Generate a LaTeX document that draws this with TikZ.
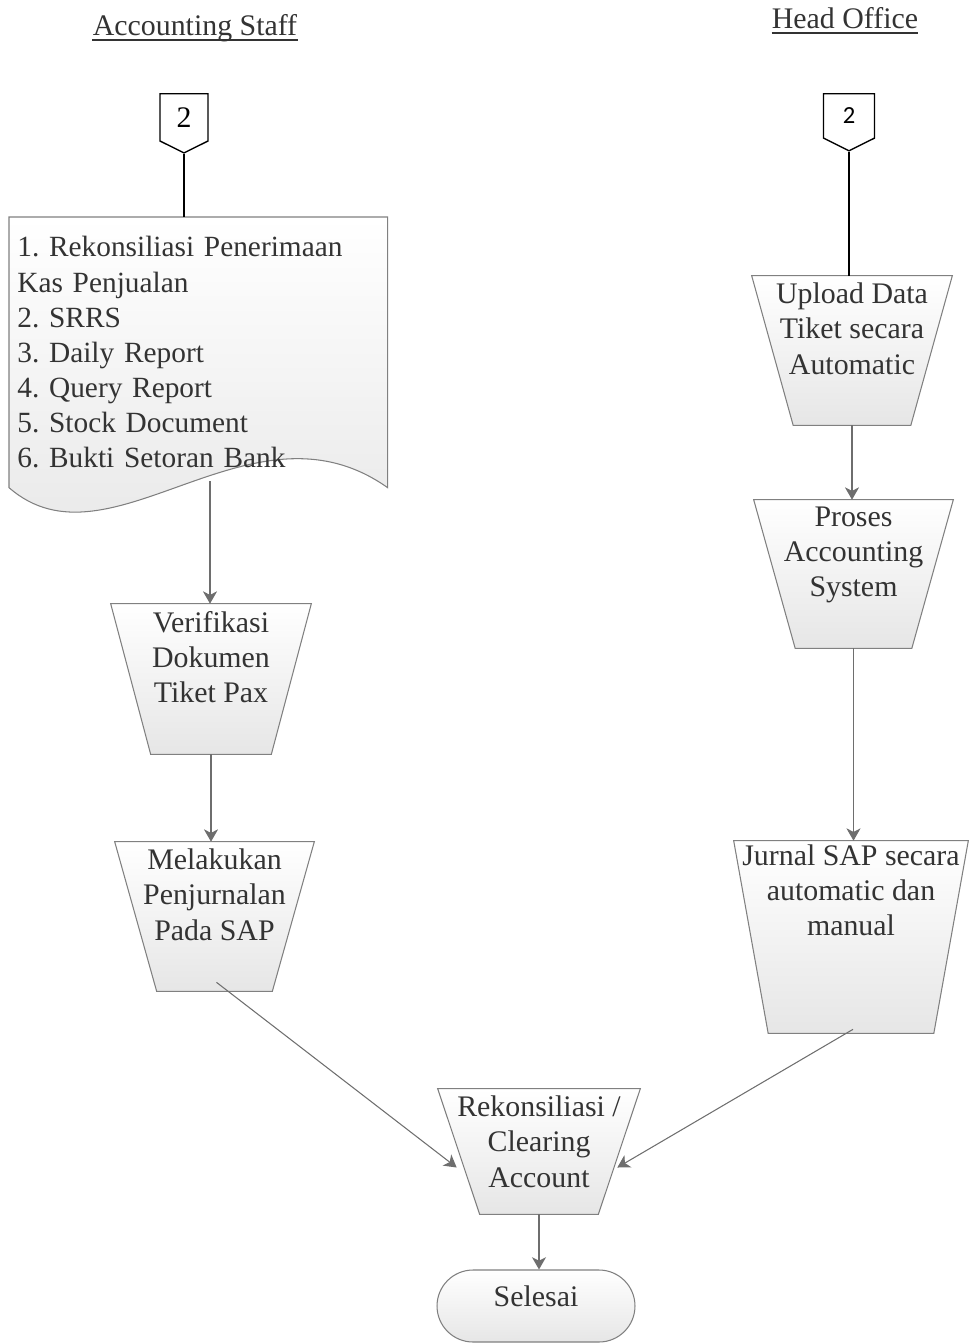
\documentclass[tikz,border=0pt]{standalone}
\usepackage{fontspec}
\setmainfont{Liberation Serif}
\newfontfamily\calibrifont{Carlito}
\usetikzlibrary{shapes.misc,shapes.symbols,arrows.meta,calc,backgrounds}

\definecolor{linegray}{RGB}{128,128,128}
\definecolor{arrowgray}{RGB}{110,110,110}
\definecolor{fillgray}{RGB}{230,230,230}
\definecolor{textgray}{RGB}{51,51,51}

\tikzset{
  stepbox/.style={rectangle, inner sep=0pt},
  manopline/.style={draw=linegray, line width=0.6pt, top color=white, bottom color=fillgray},
  steptext/.style={anchor=north, align=center, inner sep=4pt, text=textgray},
  terminal/.style={rounded rectangle, draw=linegray, line width=0.6pt, top color=white,
    bottom color=fillgray, inner sep=0pt},
  docbox/.style={rectangle, inner xsep=0.16cm, inner ysep=0pt, align=left, text=textgray,
    font=\fontsize{16.7}{20}\selectfont},
  offpage/.style={signal, signal to=south, signal pointer angle=127, draw=black,
    line width=0.8pt, fill=white, inner sep=0pt},
  flow/.style={draw=arrowgray, line width=0.6pt, -{Stealth[length=7pt,width=8pt,inset=2pt]}},
  link/.style={draw=black, line width=1.1pt},
  lane/.style={text=textgray, inner sep=0pt}
}

% manual operation outline behind a stepbox node: #1 node, #2 inset at the bottom
\newcommand{\manopshape}[2]{%
  \begin{scope}[on background layer]
    \draw [manopline] (#1.north west) -- (#1.north east) -- ($(#1.south east)+(-#2,0)$)
      -- ($(#1.south west)+(#2,0)$) -- cycle;
  \end{scope}}

\begin{document}
\frenchspacing
\begin{tikzpicture}[x=0.02cm, y=-0.02cm, font=\fontsize{17}{20}\selectfont]
\useasboundingbox (0,0) rectangle (969,1343);

% lanes
\node [lane, anchor=base] at (195,35) (staff) {Accounting Staff};
\node [lane, anchor=base] at (845,28) (head) {Head Office};
\draw [textgray, line width=1pt] ($(staff.base west)+(0,5)$) -- ($(staff.base east)+(0,5)$);
\draw [textgray, line width=1pt] ($(head.base west)+(0,5)$) -- ($(head.base east)+(0,5)$);

% off-page connectors
\node [offpage, minimum width=0.96cm, minimum height=1.02cm, anchor=north] at (184,93) (offleft) {2};
\node [offpage, minimum width=1.02cm, minimum height=0.95cm, anchor=north, font=\calibrifont\fontsize{14}{16}\selectfont] at (849,93) (offright) {2};

% Accounting Staff
\node [docbox, anchor=north west, text width=7.24cm, minimum width=7.56cm, minimum height=5.4cm] at (9,217) (docs)
  {1. Rekonsiliasi Penerimaan\\Kas Penjualan\\2. SRRS\\3. Daily Report\\4. Query Report\\5. Stock Document\\6. Bukti Setoran Bank};
\begin{scope}[on background layer]
\draw [manopline]
  (docs.north west) -- (docs.north east) -- (docs.south east)
  .. controls ($(docs.south east)+(-137,-97)$) and ($(docs.south west)+(101,88)$) .. (docs.south west) -- cycle;
\end{scope}
\coordinate (docout) at (210,481);

\node [stepbox, minimum width=4cm, minimum height=3cm,
  label={[steptext]north:{Verifikasi\\Dokumen\\Tiket Pax}}] at (211,679) (verif) {};
\manopshape{verif}{40}
\node [stepbox, minimum width=3.98cm, minimum height=2.98cm,
  label={[steptext]north:{Melakukan\\Penjurnalan\\Pada SAP}}] at (214.5,916.5) (melak) {};
\manopshape{melak}{42}

% Head Office
\node [stepbox, minimum width=4cm, minimum height=2.98cm,
  label={[steptext]north:{Upload Data\\Tiket secara\\Automatic}}] at (852,350.5) (upload) {};
\manopshape{upload}{41.5}
\node [stepbox, minimum width=3.98cm, minimum height=2.96cm,
  label={[steptext]north:{Proses\\Accounting\\System}}] at (853.5,574) (proses) {};
\manopshape{proses}{41.5}
\node [stepbox, minimum width=4.68cm, minimum height=3.84cm,
  label={[steptext, inner sep=2pt]north:{Jurnal SAP secara\\automatic dan\\manual}}] at (851,937) (jurnal) {};
\manopshape{jurnal}{34.5}

% end
\node [stepbox, minimum width=4.04cm, minimum height=2.5cm,
  label={[steptext]north:{Rekonsiliasi /\\Clearing\\Account}}] at (539,1151.5) (rekon) {};
\manopshape{rekon}{42}
\node [terminal, minimum width=3.96cm, minimum height=1.44cm,
  label={[steptext, inner sep=9pt]north:Selesai}] at (536,1306) (selesai) {};

% connectors
\draw [link] (offleft.south) -- (offleft.south |- docs.north);
\draw [link] (offright.south) -- (offright.south |- upload.north);
\draw [flow] (docout) -- (docout |- verif.north);
\draw [flow] (verif.south) -- (verif.south |- melak.north);
\draw [flow] (upload.south) -- (upload.south |- proses.north);
\draw [flow] (proses.south) -- (proses.south |- jurnal.north);
\draw [flow] ($(melak.south)+(2,-9)$) -- ($(rekon.west)+(19,16)$);
\draw [flow] ($(jurnal.south)+(2,-4)$) -- ($(rekon.east)+(-23,16)$);
\draw [flow] (rekon.south) -- (rekon.south |- selesai.north);

\end{tikzpicture}
\end{document}
